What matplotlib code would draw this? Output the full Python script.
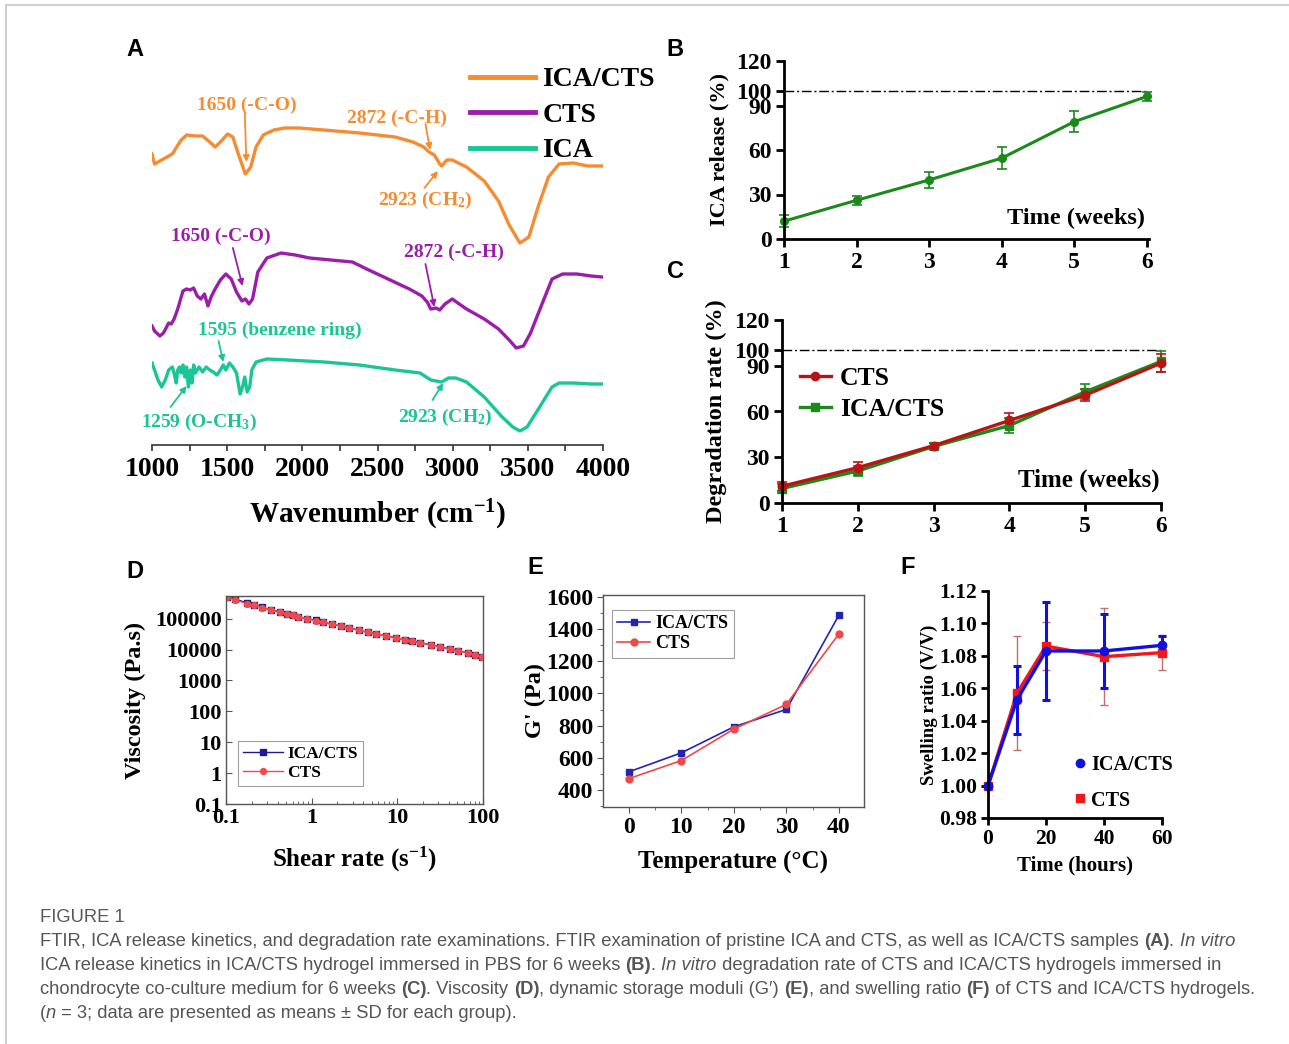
import matplotlib
matplotlib.use("Agg")
import matplotlib.pyplot as plt
from matplotlib import font_manager
from matplotlib.lines import Line2D
from matplotlib.ticker import FixedLocator, MultipleLocator, LogLocator, NullFormatter, NullLocator

W, H = 1289, 1044

# ---------------- A: FTIR spectra (wavenumber, relative transmittance a.u.)
ica_cts_wn = [1000, 1017, 1076, 1135, 1194, 1230, 1289, 1337, 1384, 1420, 1455, 1503, 1538, 1574,
              1621, 1657, 1692, 1740, 1811, 1882, 1977, 2143, 2380, 2617, 2736, 2807, 2843, 2878,
              2914, 2926, 2961, 2997, 3092, 3210, 3305, 3376, 3447, 3507, 3566, 3637, 3708, 3803,
              3898, 3993]
ica_cts_t = [291, 281, 286, 291, 305, 310, 309, 309, 303, 298, 303, 311, 308, 291,
             271, 278, 298, 310, 315, 317, 317, 315, 312, 308, 303, 298, 293, 290,
             281, 279, 285, 285, 278, 264, 244, 220, 202, 208, 237, 268, 281, 282,
             279, 279]

cts_wn = [1000, 1017, 1052, 1076, 1111, 1128, 1147, 1171, 1206, 1230, 1254, 1277, 1301, 1325,
          1349, 1372, 1396, 1420, 1455, 1491, 1527, 1562, 1598, 1621, 1645, 1669, 1704, 1764,
          1858, 1953, 2048, 2190, 2333, 2428, 2570, 2712, 2795, 2831, 2854, 2890, 2914, 2949,
          2997, 3044, 3092, 3210, 3305, 3376, 3423, 3471, 3518, 3589, 3661, 3732, 3827, 3921, 3993]
cts_t = [119, 114, 109, 112, 122, 121, 126, 136, 154, 156, 155, 157, 149, 146,
         151, 139, 149, 156, 165, 171, 166, 153, 144, 146, 141, 146, 173, 187,
         192, 190, 187, 185, 183, 176, 166, 156, 149, 143, 136, 137, 135, 141,
         146, 141, 136, 126, 116, 105, 97, 99, 112, 139, 166, 171, 171, 169, 168]

ica_wn = [1000, 1017, 1040, 1064, 1088, 1111, 1135, 1147, 1161, 1171, 1183, 1194, 1206, 1218,
          1230, 1242, 1254, 1266, 1277, 1289, 1313, 1337, 1360, 1384, 1408, 1432, 1455, 1474,
          1491, 1515, 1538, 1562, 1586, 1602, 1617, 1633, 1650, 1664, 1692, 1764, 1906, 2143,
          2380, 2617, 2783, 2854, 2926, 2973, 3021, 3092, 3210, 3329, 3400, 3447, 3495, 3566,
          3661, 3708, 3803, 3922, 3993]
ica_t = [82, 75, 65, 58, 65, 75, 78, 72, 62, 75, 78, 72, 80, 68,
         78, 58, 75, 62, 80, 72, 78, 73, 78, 75, 73, 70, 75, 80,
         75, 82, 78, 72, 51, 58, 68, 53, 58, 75, 83, 86, 85, 83,
         80, 75, 72, 65, 63, 67, 67, 63, 48, 28, 18, 14, 18, 35,
         58, 62, 62, 61, 61]

# ---------------- B: ICA release
weeks = [1, 2, 3, 4, 5, 6]
release = [12.0, 26.1, 39.8, 54.5, 79.1, 96.1]
release_sd = [4.0, 3.2, 5.5, 7.3, 7.2, 2.8]

# ---------------- C: degradation rate
deg_cts = [11.0, 23.2, 37.6, 54.1, 70.7, 91.7]
deg_cts_sd = [3.0, 4.0, 2.0, 5.0, 4.0, 6.0]
deg_ica_cts = [9.5, 21.0, 37.1, 50.8, 72.9, 92.8]
deg_ica_cts_sd = [3.0, 3.0, 2.5, 5.0, 5.0, 7.0]

# ---------------- D: viscosity vs shear rate
shear_rate = [0.103, 0.129, 0.176, 0.215, 0.264, 0.331, 0.425, 0.519, 0.61, 0.69, 0.89,
              1.11, 1.36, 1.75, 2.18, 2.74, 3.58, 4.5, 5.7, 7.3, 9.6, 12.2, 15.0, 18.6,
              24.8, 31.8, 40.9, 51.5, 66.0, 81.4, 97.6]
visc_ica_cts = [5.2e5, 4.3e5, 3.2e5, 2.75e5, 2.3e5, 1.95e5, 1.66e5, 1.45e5, 1.33e5, 1.15e5, 1.0e5,
                8.8e4, 7.8e4, 6.5e4, 5.8e4, 5.0e4, 4.2e4, 3.6e4, 3.2e4, 2.8e4, 2.4e4, 2.1e4,
                1.87e4, 1.65e4, 1.42e4, 1.25e4, 1.03e4, 9.1e3, 7.8e3, 6.7e3, 5.8e3]
visc_cts = [5.1e5, 3.96e5, 3.08e5, 2.72e5, 2.29e5, 1.96e5, 1.65e5, 1.46e5, 1.28e5, 1.16e5, 1.0e5,
            8.6e4, 7.8e4, 6.5e4, 5.8e4, 5.0e4, 4.2e4, 3.6e4, 3.2e4, 2.8e4, 2.4e4, 2.1e4,
            1.87e4, 1.65e4, 1.42e4, 1.22e4, 1.03e4, 9.1e3, 7.8e3, 6.7e3, 5.8e3]

# ---------------- E: storage modulus vs temperature
temperature = [0, 10, 20, 30, 40]
g_ica_cts = [514, 632, 793, 901, 1484]
g_cts = [472, 584, 779, 932, 1368]

# ---------------- F: swelling ratio
hours = [0, 10, 20, 40, 60]
swell_ica_cts = [1.000, 1.053, 1.083, 1.083, 1.0865]
swell_ica_cts_sd = [0.0, 0.021, 0.030, 0.023, 0.0055]
swell_cts = [1.000, 1.057, 1.086, 1.0795, 1.082]
swell_cts_sd = [0.0, 0.035, 0.015, 0.030, 0.011]

# caption pieces: (text, style) with style n / b / i
caption_lines = [
    [("FTIR, ICA release kinetics, and degradation rate examinations. FTIR examination of pristine "
      "ICA and CTS, as well as ICA/CTS samples ", "n"), ("(A)", "b"), (". ", "n"), ("In vitro", "i")],
    [("ICA release kinetics in ICA/CTS hydrogel immersed in PBS for 6 weeks ", "n"), ("(B)", "b"),
     (". ", "n"), ("In vitro", "i"),
     (" degradation rate of CTS and ICA/CTS hydrogels immersed in", "n")],
    [("chondrocyte co-culture medium for 6 weeks ", "n"), ("(C)", "b"), (". Viscosity ", "n"),
     ("(D)", "b"), (", dynamic storage moduli (G\u2032) ", "n"), ("(E)", "b"),
     (", and swelling ratio ", "n"), ("(F)", "b"), (" of CTS and ICA/CTS hydrogels.", "n")],
    [("(", "n"), ("n", "i"), (" = 3; data are presented as means \u00b1 SD for each group).", "n")],
]

plt.rcParams["font.family"] = "Liberation Serif"
plt.rcParams["font.weight"] = "bold"
plt.rcParams["axes.labelweight"] = "bold"
plt.rcParams["mathtext.fontset"] = "custom"
plt.rcParams["mathtext.rm"] = "Liberation Serif:bold"
plt.rcParams["mathtext.it"] = "Liberation Serif:italic:bold"
plt.rcParams["mathtext.bf"] = "Liberation Serif:bold"
plt.rcParams["mathtext.default"] = "rm"

ORANGE, PURPLE, TEAL = "#F58C32", "#9B1EAA", "#1AC596"
GREEN, DARKRED = "#1B8A1B", "#B81414"


def add_axes_px(fig, l, t, r, b):
    ax = fig.add_axes([l / W, 1 - b / H, (r - l) / W, (b - t) / H])
    ax.px = (l, t, r, b)
    return ax


def place_labels(ax, xlabel_y=None, ylabel_x=None):
    l, t, r, b = ax.px
    if xlabel_y is not None:
        ax.xaxis.label.set_va("center")
        ax.xaxis.set_label_coords(0.5, (b - xlabel_y) / (b - t))
    if ylabel_x is not None:
        ax.yaxis.label.set_va("center")
        ax.yaxis.set_label_coords((ylabel_x - l) / (r - l), 0.5)


def panel_letter(fig, x, y, s):
    fig.text(x / W, 1 - y / H, s, family="Liberation Sans", weight="bold", fontsize=17,
             ha="center", va="center")


def open_axes(ax, size, length=6):
    for side in ["top", "right"]:
        ax.spines[side].set_visible(False)
    for side in ["left", "bottom"]:
        ax.spines[side].set_linewidth(2)
    ax.tick_params(direction="out", length=length, width=2, labelsize=size, pad=3)


def plot_ftir(fig):
    ax = add_axes_px(fig, 152, 60, 603, 445)
    ax.plot(ica_cts_wn, ica_cts_t, color=ORANGE, lw=2.4, solid_joinstyle="round")
    ax.plot(cts_wn, cts_t, color=PURPLE, lw=2.4, solid_joinstyle="round")
    ax.plot(ica_wn, ica_t, color=TEAL, lw=2.4, solid_joinstyle="round")
    ax.set_xlim(1000, 4000)
    ax.set_ylim(0, 385)
    for side in ["top", "right", "left"]:
        ax.spines[side].set_visible(False)
    ax.spines["bottom"].set_color("#333333")
    ax.spines["bottom"].set_linewidth(1.2)
    ax.set_yticks([])
    ax.set_xticks(range(1000, 4001, 500))
    ax.xaxis.set_minor_locator(MultipleLocator(250))
    ax.tick_params(axis="x", which="both", direction="out", length=4, width=1.2, color="#333333",
                   labelsize=20, pad=5)
    ax.set_xlabel("Wavenumber (cm$^{-1}$)", fontsize=21)
    place_labels(ax, xlabel_y=515)

    notes = [
        ("1650 (-C-O)", ORANGE, (1633, 340), (1617, 332), (1628, 283)),
        ("2872 (-C-H)", ORANGE, (2629, 327), (2819, 321), (2850, 295)),
        ("2923 (CH$_2$)", ORANGE, (2819, 245), (2812, 257), (2902, 274)),
        ("1650 (-C-O)", PURPLE, (1455, 209), (1538, 197), (1602, 159)),
        ("2872 (-C-H)", PURPLE, (3009, 193), (2819, 181), (2878, 138)),
        ("1595 (benzene ring)", TEAL, (1847, 115), (1443, 104), (1474, 83)),
        ("1259 (O-CH$_3$)", TEAL, (1313, 23), (1123, 38), (1230, 59)),
        ("2923 (CH$_2$)", TEAL, (2949, 28), (2866, 45), (2937, 62)),
    ]
    for text, color, pos, tail, head in notes:
        ax.text(pos[0], pos[1], text, color=color, fontsize=14, ha="center", va="center")
        ax.annotate("", xy=head, xytext=tail,
                    arrowprops=dict(arrowstyle="-|>", color=color, lw=1.3, mutation_scale=9,
                                    shrinkA=0, shrinkB=0))

    handles = [Line2D([], [], color=c, lw=3.5) for c in (ORANGE, PURPLE, TEAL)]
    ax.legend(handles, ["ICA/CTS", "CTS", "ICA"], loc="upper left",
              bbox_to_anchor=(470 / W, 1 - 67 / H), bbox_transform=fig.transFigure,
              frameon=False, fontsize=20, handlelength=2.35, handletextpad=0.25,
              labelspacing=0.36, borderpad=0, borderaxespad=0)


def plot_release(fig):
    ax = add_axes_px(fig, 784, 61, 1149, 239)
    ax.axhline(100, color="black", lw=1, ls=(0, (7, 2, 1.5, 2)))
    ax.errorbar(weeks, release, yerr=release_sd, color=GREEN, marker="o", ms=5.5, lw=2.2,
                capsize=3.5, elinewidth=1.2, capthick=1.2, clip_on=False)
    ax.set_xlim(1, 6.03)
    ax.set_ylim(0, 120)
    ax.set_xticks(weeks)
    ax.set_yticks([0, 30, 60, 90, 100, 120])
    open_axes(ax, 17)
    ax.set_ylabel("ICA release (%)", fontsize=16)
    place_labels(ax, ylabel_x=719)
    ax.text(5.98, 14, "Time (weeks)", fontsize=17.5, ha="right", va="center")


def plot_degradation(fig):
    ax = add_axes_px(fig, 782, 320, 1161, 503)
    ax.axhline(100, color="black", lw=1, ls=(0, (7, 2, 1.5, 2)))
    ax.errorbar(weeks, deg_ica_cts, yerr=deg_ica_cts_sd, fmt="none", ecolor=GREEN,
                elinewidth=1.2, capsize=3.5, capthick=1.2, clip_on=False)
    ax.errorbar(weeks, deg_cts, yerr=deg_cts_sd, fmt="none", ecolor=DARKRED,
                elinewidth=1.2, capsize=3.5, capthick=1.2, clip_on=False)
    ax.plot(weeks, deg_ica_cts, color=GREEN, marker="s", ms=5.5, lw=2.4, clip_on=False,
            label="ICA/CTS")
    ax.plot(weeks, deg_cts, color=DARKRED, marker="o", ms=6, lw=2.4, clip_on=False, label="CTS")
    ax.set_xlim(1, 6)
    ax.set_ylim(0, 120)
    ax.set_xticks(weeks)
    ax.set_yticks([0, 30, 60, 90, 100, 120])
    open_axes(ax, 17)
    ax.set_ylabel("Degradation rate (%)", fontsize=17.5)
    place_labels(ax, ylabel_x=716)
    ax.text(5.98, 15, "Time (weeks)", fontsize=18, ha="right", va="center")
    h, lab = ax.get_legend_handles_labels()
    ax.legend(h[::-1], lab[::-1], loc="upper left", bbox_to_anchor=(0.0, 0.84), frameon=False,
              fontsize=18.5, handlelength=1.2, handletextpad=0.35, labelspacing=0.3,
              borderpad=0.2)


def plot_viscosity(fig):
    ax = add_axes_px(fig, 226, 596, 483, 804)
    ax.plot(shear_rate, visc_ica_cts, color="#1C1C8C", marker="s", ms=3.8, lw=1, label="ICA/CTS")
    ax.plot(shear_rate, visc_cts, color="#F04A4A", marker="o", ms=4.2, lw=1, label="CTS")
    ax.set_xscale("log")
    ax.set_yscale("log")
    ax.set_xlim(0.1, 100)
    ax.set_ylim(0.1, 5.4e5)
    ax.xaxis.set_major_locator(FixedLocator([0.1, 1, 10, 100]))
    ax.set_xticklabels(["0.1", "1", "10", "100"])
    ax.xaxis.set_minor_locator(LogLocator(base=10, subs=range(2, 10)))
    ax.xaxis.set_minor_formatter(NullFormatter())
    ax.yaxis.set_major_locator(FixedLocator([0.1, 1, 10, 100, 1000, 10000, 100000]))
    ax.set_yticklabels(["0.1", "1", "10", "100", "1000", "10000", "100000"])
    ax.yaxis.set_minor_locator(NullLocator())
    for sp in ax.spines.values():
        sp.set_color("#555555")
        sp.set_linewidth(1)
    ax.tick_params(which="both", direction="in", color="#555555", labelsize=16, pad=3)
    ax.tick_params(which="major", length=4)
    ax.tick_params(which="minor", length=2)
    ax.set_xlabel("Shear rate (s$^{-1}$)", fontsize=18)
    ax.set_ylabel("Viscosity (Pa.s)", fontsize=17.5)
    place_labels(ax, xlabel_y=859, ylabel_x=135)
    leg = ax.legend(loc="lower left", bbox_to_anchor=(0.047, 0.087), fontsize=12.5,
                    fancybox=False, edgecolor="#888888", handlelength=2.3, handletextpad=0.25,
                    labelspacing=0.15, borderpad=0.3, borderaxespad=0)
    leg.get_frame().set_linewidth(0.8)


def plot_modulus(fig):
    ax = add_axes_px(fig, 603, 595, 864, 807)
    ax.plot(temperature, g_ica_cts, color="#2424B4", marker="s", ms=4.5, lw=1.2, label="ICA/CTS")
    ax.plot(temperature, g_cts, color="#F04848", marker="o", ms=5, lw=1.2, label="CTS")
    ax.set_xlim(-4.95, 44.8)
    ax.set_ylim(296, 1610)
    ax.set_xticks([0, 10, 20, 30, 40])
    ax.set_yticks(range(400, 1601, 200))
    ax.xaxis.set_minor_locator(MultipleLocator(5))
    ax.yaxis.set_minor_locator(MultipleLocator(100))
    for sp in ax.spines.values():
        sp.set_color("#555555")
        sp.set_linewidth(1)
    ax.tick_params(which="both", direction="out", color="#555555", labelsize=17, pad=3)
    ax.tick_params(which="major", length=4)
    ax.tick_params(which="minor", length=2)
    ax.set_xlabel("Temperature (\u00b0C)", fontsize=18)
    ax.set_ylabel("G' (Pa)", fontsize=17.5)
    place_labels(ax, xlabel_y=862, ylabel_x=535)
    leg = ax.legend(loc="upper left", bbox_to_anchor=(0.034, 0.929), fontsize=13,
                    fancybox=False, edgecolor="#888888", handlelength=1.8, handletextpad=0.3,
                    labelspacing=0.15, borderpad=0.3, borderaxespad=0)
    leg.get_frame().set_linewidth(0.8)


def plot_swelling(fig):
    ax = add_axes_px(fig, 988, 591, 1162, 818)
    ax.errorbar(hours, swell_cts, yerr=swell_cts_sd, color="#F01818", ecolor="#C07070",
                marker="s", ms=6, lw=2.4, elinewidth=1, capsize=3, capthick=1, clip_on=False)
    ax.errorbar(hours, swell_ica_cts, yerr=swell_ica_cts_sd, color="#1010E0", marker="o", ms=6,
                lw=2.4, elinewidth=2.2, capsize=3, capthick=2.2, clip_on=False)
    ax.set_xlim(0, 60)
    ax.set_ylim(0.98, 1.12)
    ax.set_xticks([0, 20, 40, 60])
    ax.set_yticks([0.98, 1.00, 1.02, 1.04, 1.06, 1.08, 1.10, 1.12])
    ax.set_yticklabels(["0.98", "1.00", "1.02", "1.04", "1.06", "1.08", "1.10", "1.12"])
    open_axes(ax, 15.5, length=5)
    ax.set_xlabel("Time (hours)", fontsize=15)
    ax.set_ylabel("Swelling ratio (V/V)", fontsize=13.5)
    place_labels(ax, xlabel_y=865, ylabel_x=929)
    handles = [Line2D([], [], ls="none", marker="o", ms=6, color="#1010E0"),
               Line2D([], [], ls="none", marker="s", ms=6, color="#F01818")]
    ax.legend(handles, ["ICA/CTS", "CTS"], loc="upper left", bbox_to_anchor=(0.43, 0.32),
              frameon=False, fontsize=14.5, handlelength=0.7, handletextpad=0.2,
              labelspacing=0.75, borderpad=0)


def text_width(fig, s, kw):
    r = fig.canvas.get_renderer()
    t1 = fig.text(0, 0, "|" + s + "|", **kw)
    t2 = fig.text(0, 0, "||", **kw)
    w = t1.get_window_extent(r).width - t2.get_window_extent(r).width
    t1.remove()
    t2.remove()
    return w


def style_kw(style, size, family):
    return dict(fontsize=size, family=family, color="#555555",
                weight="bold" if style == "b" else "normal",
                style="italic" if style == "i" else "normal")


def draw_caption(fig):
    names = {f.name for f in font_manager.fontManager.ttflist}
    family = "Liberation Sans Narrow" if "Liberation Sans Narrow" in names else "Liberation Sans"
    # scale the font so the longest line spans the caption width
    natural = max(sum(text_width(fig, s, style_kw(st, 10, family)) for s, st in line)
                  for line in caption_lines)
    size = 10 * (1258 - 40) / natural
    fig.text(40 / W, 1 - 922 / H, "FIGURE 1", fontsize=size, family=family, color="#595959",
             weight="normal", va="baseline")
    for i, line in enumerate(caption_lines):
        x = 40
        y = 946 + 24 * i
        for s, st in line:
            kw = style_kw(st, size, family)
            fig.text(x / W, 1 - y / H, s, va="baseline", ha="left", **kw)
            x += text_width(fig, s, kw)


def main():
    fig = plt.figure(figsize=(W / 100, H / 100), dpi=100)
    fig.patch.set_facecolor("white")

    # page frame (top and left rule)
    fig.add_artist(Line2D([6 / W, 1], [1 - 5 / H, 1 - 5 / H], color="#D0D0D0", lw=1.5))
    fig.add_artist(Line2D([6 / W, 6 / W], [0, 1 - 5 / H], color="#D0D0D0", lw=1.5))

    plot_ftir(fig)
    plot_release(fig)
    plot_degradation(fig)
    plot_viscosity(fig)
    plot_modulus(fig)
    plot_swelling(fig)

    panel_letter(fig, 135, 49, "A")
    panel_letter(fig, 675, 49, "B")
    panel_letter(fig, 675, 272, "C")
    panel_letter(fig, 135, 572, "D")
    panel_letter(fig, 535, 567, "E")
    panel_letter(fig, 908, 568, "F")

    draw_caption(fig)
    fig.savefig("out.png", dpi=100)
    plt.close(fig)


if __name__ == "__main__":
    main()
